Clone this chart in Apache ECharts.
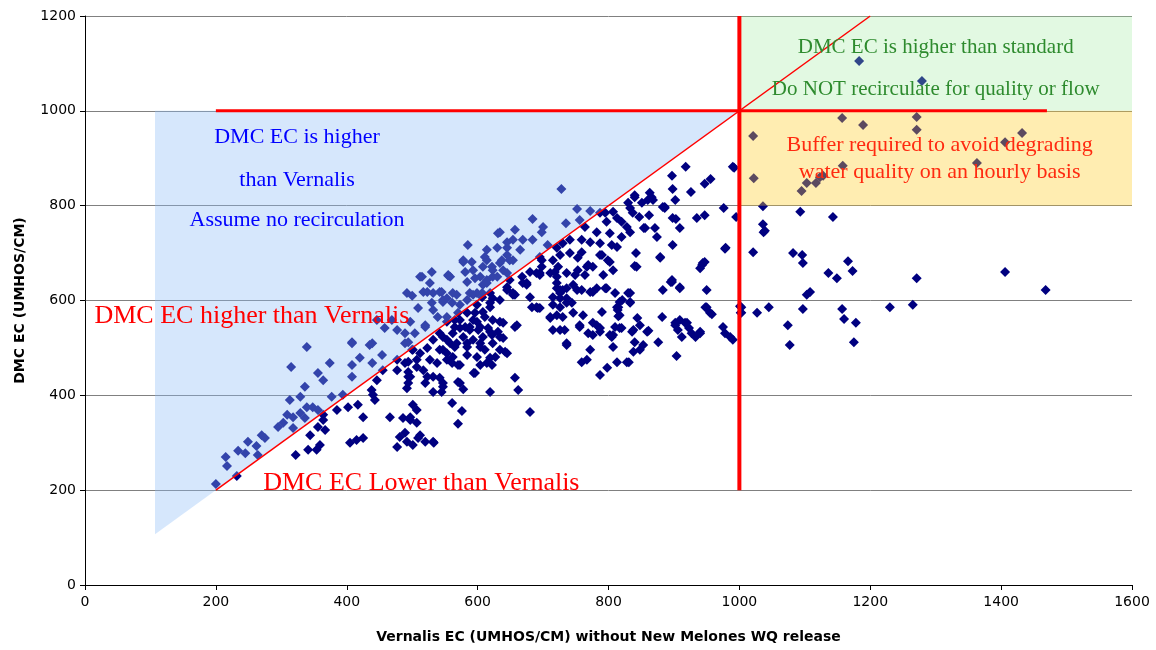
<!DOCTYPE html>
<html>
<head>
<meta charset="utf-8">
<title>DMC EC vs Vernalis EC</title>
<script src="https://cdn.jsdelivr.net/npm/echarts@6/dist/echarts.min.js"></script>
<style>
  html, body { margin: 0; padding: 0; background: #ffffff; }
  #chart { width: 1156px; height: 650px; }
</style>
</head>
<body>
<div id="chart"></div>
<script>
// Axis ranges and ticks
const xRange = [0, 1600];
const yRange = [0, 1200];
const tickStep = 200;

// Paired observations: [Vernalis EC, DMC EC] (UMHOS/CM)
const samples = [
  [200,213],[232,230],[217,251],[215,270],[234,283],[245,278],[249,302],[262,293],[264,274],[270,316],
  [275,310],[295,333],[303,342],[309,359],[318,354],[329,363],[336,352],[318,331],[313,390],[329,397],
  [336,418],[339,375],[348,375],[356,369],[356,447],[364,432],[374,468],[315,460],[339,502],[377,397],
  [394,401],[408,439],[408,464],[420,479],[408,510],[439,468],[439,510],[454,485],[455,453],[446,559],
  [458,542],[477,538],[489,510],[504,531],[497,555],[469,559],
  [322,274],[344,316],[354,285],[359,295],[356,333],[364,348],[367,327],[341,285],[364,359],[385,369],
  [402,375],[417,380],[425,354],[440,401],[443,390],[438,411],[446,432],[477,453],[494,449],[494,426],
  [492,415],[477,475],[494,471],[466,354],[486,352],[497,348],[507,369],[481,312],[492,302],[477,291],
  [501,295],[405,300],[415,306],[425,310],[497,439],[500,496],[507,460],
  [520,426],[532,439],[542,437],[547,418],[532,407],[545,407],[570,428],[578,413],[561,384],[576,367],
  [570,340],[594,447],[619,407],[520,302],[533,300],[489,321],[509,310],[512,316],
  [492,616],[512,650],[530,660],[527,637],[555,652],[517,618],[532,616],[545,618],[547,597],[530,595],
  [561,595],[578,681],[584,639],[588,616],[570,574],[520,544],[553,555],[611,692],[622,671],[634,679],
  [654,685],[645,658],[604,650],[593,664],[614,637],[607,616],[489,531],[494,512],[501,496],
  [669,637],[690,658],[698,685],[726,696],[759,702],[787,696],[802,681],[807,664],[753,664],[767,671],
  [718,660],[721,637],[730,622],[746,633],[759,622],[776,618],[795,626],[810,616],[726,605],[736,595],
  [715,591],[680,607],[654,612],[645,628],[623,605],[607,607],[619,586],[683,586],[695,584],[746,574],
  [761,569],[790,576],[711,563],[726,538],[715,538],[736,510],[756,548],[782,548],[787,542],[776,527],
  [772,496],[759,470],[767,475],[805,523],[807,502],[817,542],[813,470],[798,458],[787,443],[828,470],
  [814,580],[821,601],[657,544],[596,574],[611,565],[599,555],[588,544],[601,538],[634,555],[616,542],
  [622,527],[634,523],[604,510],[611,496],[627,481],[614,468],[622,464],[596,447],[634,496],[645,489],
  [573,559],[581,544],[565,544],[584,510],[565,502],[553,489],[542,496],[532,517],[542,531],[547,523],
  [558,510],[561,468],[570,464],[538,468],[527,475],[523,500],[512,489],[507,475],[517,453],[523,439],
  [494,439],[489,468],[547,426],[573,426],[657,437],[662,411],[680,365],[501,380],[497,354],[507,342],
  [532,302],
  [558,650],[553,605],[568,612],[593,612],[608,633],[623,650],[619,616],[553,565],[565,559],[584,574],
  [599,591],
  [649,643],[675,637],[695,658],[721,650],[726,622],[715,607],[654,616],[634,601],[619,595],[690,586],
  [726,586],[730,565],[733,538],[736,506],[608,576],[623,559],[639,553],[660,548],[631,534],[593,559],
  [604,544],[619,534],[588,538],[573,542],[562,531],[578,523],[593,517],[608,523],[639,521],[623,510],
  [604,502],[584,502],[568,510],[553,517],[547,496],[562,481],[584,485],[599,481],[619,479],[642,492],
  [604,464],[573,464],[553,475],
  [631,742],[585,717],[614,707],[630,711],[645,723],[578,685],[591,681],[614,685],[608,671],[623,664],
  [637,685],[645,696],[596,647],[581,660],[555,654],[515,650],[523,618],[542,618],[562,616],[547,601],
  [573,591],[584,601],[599,616],[614,643],[630,650],[500,610],[509,584],[532,580],[539,565],[520,548],
  [435,506],[408,512],
  [728,835],[752,793],[772,789],[684,772],[735,763],[756,770],[700,755],[698,744],[657,749],[684,728],
  [669,728],[707,717],[654,728],[645,711],[665,707],[634,744],[649,685],[639,664],
  [918,882],[897,863],[898,835],[926,829],[947,846],[956,856],[976,795],[978,709],[840,822],[863,827],
  [868,812],[851,806],[830,806],[833,795],[837,785],[807,787],[813,774],[797,766],[787,785],[795,785],
  [820,766],[828,755],[833,744],[820,734],[802,742],[782,744],[764,755],[759,728],[741,728],[730,721],
  [772,723],[787,721],[805,717],[813,713],[721,711],[741,700],[753,690],[769,675],[776,671],[790,696],
  [799,685],[792,654],[764,654],[749,654],[736,658],[723,671],[715,685],[695,692],[698,671],[711,658],
  [695,654],[680,660],[668,650],[675,633],[657,612],[645,622],[692,584],[711,565],[721,569],[726,616],
  [736,605],[744,595],[752,622],[736,626],[721,626],[772,618],[782,626],[797,626],[830,616],[833,595],
  [815,586],[817,569],[776,553],[756,544],[769,531],[787,534],[810,544],[802,527],[844,563],[848,548],
  [836,534],[859,534],[882,565],[902,553],[917,553],[906,538],[927,531],[940,534],[950,586],[955,574],
  [879,692],[842,700],[840,673],[898,774],[909,753],[871,753],[874,734],[856,753],[886,797],[898,717],
  [943,675],[947,681],[897,643],[883,622],[909,626],[950,622],
  [992,880],[902,812],[886,795],[866,818],[840,818],[860,812],[995,776],[935,774],[947,780],[903,772],
  [854,753],[862,780],[847,776],[883,797],[979,711],[879,690],[1021,702],[1082,700],[1096,696],[1097,679],
  [1036,799],[1093,787],[1143,776],[1036,761],[1037,744],[944,679],[940,668],[909,628],[897,639],[1136,658],
  [1108,618],[1149,647],[843,671],
  [1183,1105],[1279,1063],[1157,985],[1189,970],[1271,987],[1271,960],[1021,947],[1432,953],[1406,934],[1363,890],
  [1158,884],[1022,858],[1123,860],[1117,848],[1103,848],[1095,831],[1128,863],[990,882],
  [1039,747],[1166,683],[1173,662],[1271,647],[1406,660],[1468,622],[1103,612],[1003,586],[1003,574],[1027,574],
  [1045,586],[1097,582],[1157,582],[1160,561],[1178,553],[1074,548],[1077,506],[1175,512],[1230,586],[1265,591],
  [833,616],[833,597],[817,597],[813,586],[815,567],[895,639],[948,586],[958,571],[1001,588],[1002,574],
  [838,538],[820,542],[861,536],[902,548],[909,559],[920,553],[923,542],[912,523],[933,523],[940,531],
  [975,544],[978,531],[986,523],[990,517],[876,512],[840,512],[853,506],[848,496],[838,492],[807,527],
  [904,483],[831,470]
];

// Shaded decision zones (polygon vertices in data units)
const recircZone = [[107,107],[107,1000],[1000,1000]];
const standardZone = [[1000,1000],[1600,1000],[1600,1200],[1000,1200]];
const bufferZone = [[1000,800],[1600,800],[1600,1000],[1000,1000]];

// Reference lines
const standardLine = [[200,1000],[1470,1000]];
const vernalisLimit = [[1000,200],[1000,1200]];
const equalityLine = [[200,200],[1200,1200]];

// Annotation anchors: [x, y]
const noteHigherPos = [255,567];
const noteLowerPos = [514,215];
const recircNotePos = [[324,945],[324,854],[324,770]];
const standardNotePos = [[1300,1133],[1300,1046]];
const bufferNotePos = [[1306,928],[1306,871]];

const noteHigherText = 'DMC EC higher than Vernalis';
const noteLowerText = 'DMC EC Lower than Vernalis';
const recircNoteText = ['DMC EC is higher', 'than Vernalis', 'Assume no recirculation'];
const standardNoteText = ['DMC EC is higher than standard', 'Do NOT recirculate for quality or flow'];
const bufferNoteText = ['Buffer required to avoid degrading', 'water quality on an hourly basis'];

const serif = '"Liberation Serif", "Times New Roman", serif';
const sans = '"DejaVu Sans", sans-serif';

function note(pos, text, color, size) {
  return {
    value: pos,
    label: {
      show: true, formatter: text, position: 'inside',
      color: color, fontSize: size, fontFamily: serif,
      align: 'center', verticalAlign: 'middle',
      textBorderWidth: 0, opacity: 1
    }
  };
}

const notes = [
  note(noteHigherPos, noteHigherText, '#ff0000', 26),
  note(noteLowerPos, noteLowerText, '#ff0000', 26)
]
  .concat(recircNotePos.map((p, i) => note(p, recircNoteText[i], '#0000ff', 22)))
  .concat(standardNotePos.map((p, i) => note(p, standardNoteText[i], '#2e8b2e', 21)))
  .concat(bufferNotePos.map((p, i) => note(p, bufferNoteText[i], '#ff2a10', 22)));

const zones = [recircZone, standardZone, bufferZone];
const zoneFills = ['rgba(140,189,246,0.36)', 'rgba(160,236,160,0.30)', 'rgba(255,205,40,0.36)'];

const chart = echarts.init(document.getElementById('chart'), null, { renderer: 'canvas' });

const redLine = (data, width) => ({
  type: 'line', data: data, symbol: 'none', silent: true, z: 6,
  lineStyle: { color: '#ff0000', width: width, opacity: 1 }, animation: false
});

const plainNumber = v => String(v);

chart.setOption({
  animation: false,
  backgroundColor: '#ffffff',
  grid: { left: 85, right: 24, top: 16, bottom: 65, containLabel: false },
  xAxis: {
    type: 'value', min: xRange[0], max: xRange[1], interval: tickStep,
    name: 'Vernalis EC (UMHOS/CM) without New Melones WQ release',
    nameLocation: 'middle', nameGap: 45,
    nameTextStyle: { fontFamily: sans, fontWeight: 'bold', fontSize: 14, color: '#000' },
    axisLine: { show: true, onZero: false, lineStyle: { color: '#000', width: 1 } },
    axisTick: { show: true, length: 5, lineStyle: { color: '#000' } },
    axisLabel: { fontFamily: sans, fontSize: 14, color: '#000', margin: 10, formatter: plainNumber },
    splitLine: { show: false }
  },
  yAxis: {
    type: 'value', min: yRange[0], max: yRange[1], interval: tickStep,
    name: 'DMC EC (UMHOS/CM)',
    nameLocation: 'middle', nameGap: 58, nameRotate: 90,
    nameTextStyle: { fontFamily: sans, fontWeight: 'bold', fontSize: 14, color: '#000' },
    axisLine: { show: true, onZero: false, lineStyle: { color: '#000', width: 1 } },
    axisTick: { show: true, length: 5, lineStyle: { color: '#000' } },
    axisLabel: { fontFamily: sans, fontSize: 14, color: '#000', margin: 9, formatter: plainNumber },
    splitLine: { show: true, lineStyle: { color: '#808080', width: 1 } }
  },
  series: [
    {
      name: 'DMC EC', type: 'scatter', data: samples, z: 2,
      symbol: 'diamond', symbolSize: 10,
      itemStyle: { color: '#000080', opacity: 1 }
    },
    {
      name: 'zones', type: 'custom', z: 3, silent: true,
      data: zones.map((z, i) => [i]),
      renderItem: function (params, api) {
        const pts = zones[params.dataIndex].map(p => api.coord(p));
        return {
          type: 'polygon',
          shape: { points: pts },
          style: { fill: zoneFills[params.dataIndex], stroke: null }
        };
      }
    },
    redLine(equalityLine, 1.5),
    redLine(standardLine, 3),
    redLine(vernalisLimit, 4),
    {
      name: 'notes', type: 'scatter', data: notes, z: 8, silent: true,
      symbolSize: 1, itemStyle: { color: 'rgba(0,0,0,0)', opacity: 1 }
    }
  ]
});
</script>
</body>
</html>
